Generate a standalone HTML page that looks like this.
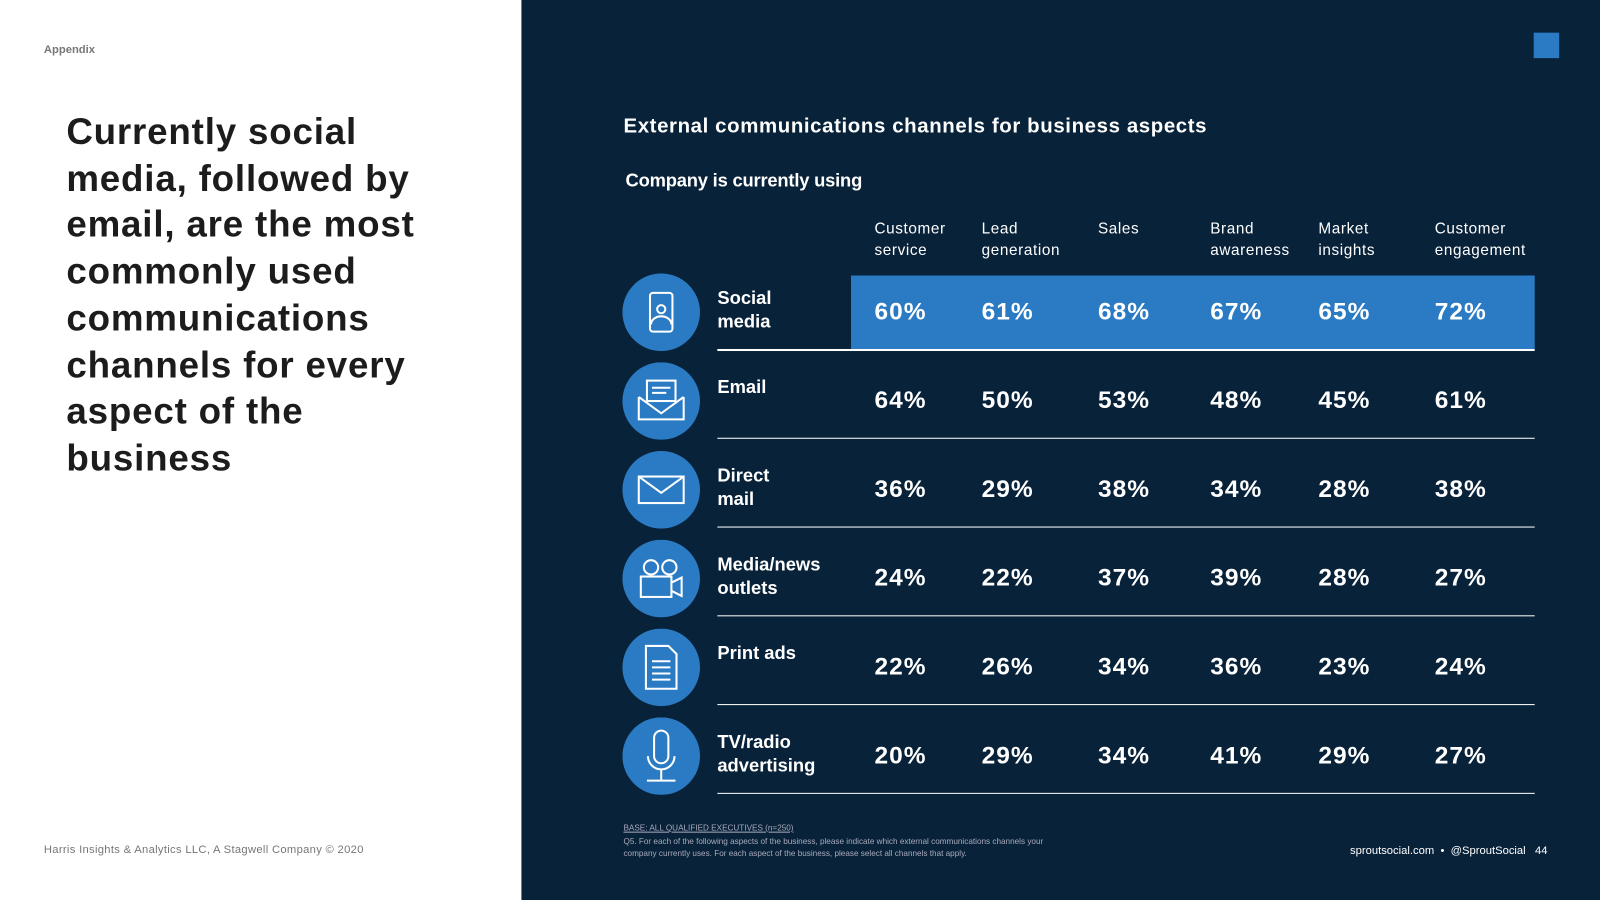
<!DOCTYPE html>
<html><head><meta charset="utf-8">
<style>
html,body{margin:0;padding:0;width:1600px;height:900px;overflow:hidden;background:#fff}
#wrap{position:absolute;left:0;top:0;width:1568px;height:882px;transform:scale(1.020408);transform-origin:0 0;font-family:"Liberation Sans",sans-serif}
.abs{position:absolute}
#left{left:0;top:0;width:511px;height:882px;background:#fff}
#right{left:511px;top:0;width:1057px;height:882px;background:#082239}
.hdr{color:#fff;font-size:15px;line-height:21px;letter-spacing:.6px}
.lab{color:#fff;font-weight:bold;font-size:18px;line-height:23px;left:703px}
.val{color:#fff;font-weight:bold;font-size:24px;letter-spacing:1px}
.line{height:1.5px;background:#fff;left:703px;width:801px}
</style></head><body>
<div id="wrap">
<div id="left" class="abs">
<div class="abs" style="left:43px;top:43px;font-size:11px;font-weight:bold;color:#777">Appendix</div>
<div class="abs" style="left:65px;top:106px;width:440px;white-space:nowrap;font-size:36px;font-weight:bold;line-height:45.7px;color:#1c1c1c;letter-spacing:.8px">Currently social<br>media, followed by<br>email, are the most<br>commonly used<br>communications<br>channels for every<br>aspect of the<br>business</div>
<div class="abs" style="left:43px;top:827px;font-size:11px;color:#777;letter-spacing:.3px">Harris Insights &amp; Analytics LLC, A Stagwell Company © 2020</div>
</div>
<div id="right" class="abs"></div>
<div class="abs" style="left:1503px;top:32px;width:25px;height:25px;background:#2a7bc4"></div>
<div class="abs" style="left:611px;top:113px;color:#fff;font-weight:bold;font-size:20px;letter-spacing:.6px">External communications channels for business aspects</div>
<div class="abs" style="left:613px;top:167px;color:#fff;font-weight:bold;font-size:18px;letter-spacing:-.2px">Company is currently using</div>
<div class="abs" style="left:834px;top:270px;width:670px;height:72px;background:#2a7bc4"></div>
<div id="table"></div>
<div class="abs" style="left:611px;top:806px;font-size:8px;color:#aab;line-height:12.5px;width:430px"><u>BASE: ALL QUALIFIED EXECUTIVES (n=250)</u><br>Q5. For each of the following aspects of the business, please indicate which external communications channels your company currently uses. For each aspect of the business, please select all channels that apply.</div>
<div class="abs" style="left:1323px;top:828px;font-size:11px;color:#fff">sproutsocial.com &nbsp;•&nbsp; @SproutSocial &nbsp;&nbsp;44</div>
</div>
<script>
const categories=["Customer<br>service","Lead<br>generation","Sales","Brand<br>awareness","Market<br>insights","Customer<br>engagement"];
const channels=["Social<br>media","Email","Direct<br>mail","Media/news<br>outlets","Print ads","TV/radio<br>advertising"];
const socialMedia=[60,61,68,67,65,72];
const email=[64,50,53,48,45,61];
const directMail=[36,29,38,34,28,38];
const mediaNews=[24,22,37,39,28,27];
const printAds=[22,26,34,36,23,24];
const tvRadio=[20,29,34,41,29,27];
const series=[socialMedia,email,directMail,mediaNews,printAds,tvRadio];
const colX=[857,962,1076,1186,1292,1406];
const rowY=i=>270+i*86.9;
const T=document.getElementById('table');
const icons=[
'<rect x="-11" y="-19" width="22" height="38" rx="3" fill="none" stroke="#fff" stroke-width="2"/><circle cx="0" cy="-3" r="4" fill="none" stroke="#fff" stroke-width="2"/><path d="M-10 12a10 8 0 0 1 20 0" fill="none" stroke="#fff" stroke-width="2"/>',
'<path d="M-22 -4v22h44v-22M-22-4l22 16 22-16" fill="none" stroke="#fff" stroke-width="2"/><rect x="-14" y="-20" width="28" height="20" fill="none" stroke="#fff" stroke-width="2"/><path d="M-9-13h18M-9-8h14" stroke="#fff" stroke-width="2"/>',
'<rect x="-22" y="-13" width="44" height="26" fill="none" stroke="#fff" stroke-width="2"/><path d="M-22-13l22 16 22-16" fill="none" stroke="#fff" stroke-width="2"/>',
'<circle cx="-10" cy="-11" r="7" fill="none" stroke="#fff" stroke-width="2"/><circle cx="8" cy="-11" r="7" fill="none" stroke="#fff" stroke-width="2"/><rect x="-20" y="-2" width="30" height="20" fill="none" stroke="#fff" stroke-width="2"/><path d="M10 4l10-5v18l-10-5" fill="none" stroke="#fff" stroke-width="2"/>',
'<path d="M-15-21h22l8 8v34h-30z" fill="none" stroke="#fff" stroke-width="2"/><path d="M-9-6h18M-9 0h18M-9 6h18M-9 12h18" stroke="#fff" stroke-width="2"/>',
'<rect x="-7" y="-25" width="14" height="32" rx="7" fill="none" stroke="#fff" stroke-width="2"/><path d="M-13 0a13 13 0 0 0 26 0M0 13v10M-14 24h28" fill="none" stroke="#fff" stroke-width="2"/>'];
let h='';
categories.forEach((c,j)=>{h+=`<div class="abs hdr" style="left:${colX[j]}px;top:214px">${c}</div>`;});
T.innerHTML=h;
channels.forEach((ch,i)=>{
 const y=rowY(i);
 const ic=document.createElement('div');ic.className='abs';
 
 
 ic.style.cssText=`left:610px;top:${y-2}px;width:76px;height:76px`;
 ic.innerHTML=`<svg width="76" height="76"><circle cx="38" cy="38" r="38" fill="#2a7bc4"/><g transform="translate(38,38)">${icons[i]}</g></svg>`;
 T.appendChild(ic);
 const lb=document.createElement('div');lb.className='abs lab';
 
 
 lb.style.top=(y+11)+'px';lb.innerHTML=ch;T.appendChild(lb);
 series[i].forEach((v,j)=>{
  const d=document.createElement('div');d.className='abs val';
  
  
  d.style.left=colX[j]+'px';d.style.top=(y+22)+'px';d.textContent=v+'%';T.appendChild(d);
 });
 const ln=document.createElement('div');ln.className='abs line';
 
 
 ln.style.top=(y+72)+'px';T.appendChild(ln);
});
</script>
</body></html>
